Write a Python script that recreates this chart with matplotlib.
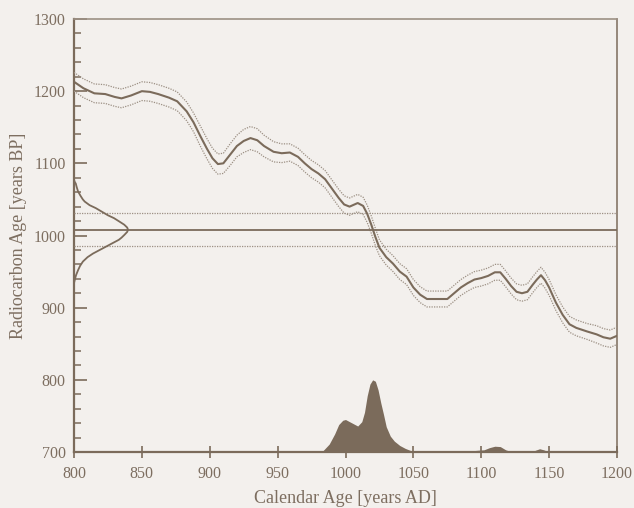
import matplotlib
matplotlib.use("Agg")
import matplotlib.pyplot as plt
from matplotlib.ticker import MultipleLocator

# ---------------- data ----------------
cal_years = [800, 807, 815, 823, 830, 835, 842, 850, 856, 862, 870, 876, 883, 888, 893, 898,
             902, 906, 910, 915, 920, 925, 930, 935, 940, 947, 953, 959, 965, 970, 975, 980,
             985, 990, 995, 999, 1003, 1009, 1013, 1016, 1019, 1022, 1025, 1030, 1035, 1040,
             1045, 1050, 1055, 1060, 1068, 1075, 1080, 1085, 1090, 1095, 1100, 1105, 1110,
             1114, 1118, 1122, 1126, 1130, 1134, 1138, 1141, 1144, 1147, 1150, 1155, 1160,
             1165, 1170, 1178, 1185, 1190, 1195, 1200]
c14_age = [1213, 1204, 1197, 1196, 1192, 1190, 1194, 1200, 1199, 1196, 1191, 1186, 1172, 1157,
           1138, 1120, 1107, 1099, 1100, 1112, 1124, 1131, 1135, 1132, 1124, 1116, 1114, 1115,
           1109, 1100, 1092, 1086, 1078, 1065, 1052, 1043, 1040, 1045, 1041, 1030, 1015, 998,
           983, 970, 961, 950, 943, 928, 918, 912, 912, 912, 920, 928, 934, 939, 941, 944, 949,
           949, 940, 930, 922, 920, 922, 932, 939, 945, 938, 928, 907, 890, 877, 872, 867, 863,
           859, 857, 861]
c14_err = [13, 13, 13, 13, 13, 13, 13, 13, 13, 13, 13, 13, 13, 13, 14, 14,
           14, 14, 14, 15, 15, 16, 16, 16, 15, 14, 13, 12, 12, 12, 12, 12,
           12, 12, 12, 12, 12, 12, 12, 12, 12, 12, 11, 11, 11, 11,
           11, 11, 11, 11, 11, 11, 11, 11, 11, 11, 11, 11, 11,
           11, 11, 11, 11, 11, 11, 11, 11, 11, 11, 11, 11, 11,
           11, 11, 11, 12, 12, 12, 12]

# measured radiocarbon date
meas_age = 1008
meas_lo = 985
meas_hi = 1031
meas_curve_age = [1077, 1074, 1072, 1067, 1061, 1055, 1050, 1047, 1042, 1038, 1033, 1028,
                  1024, 1019, 1015, 1011, 1008, 1005, 1001, 997, 994, 990, 985, 980, 975,
                  970, 964, 958, 952, 945, 938, 934]
meas_curve_w = [0, 0.6, 1.3, 2.0, 3.0, 4.8, 6.5, 7.9, 11.5, 16.0, 20.5, 25.0,
                29.5, 33.7, 37.0, 39.2, 39.8, 39.2, 37.2, 35.0, 33.0, 29.0, 24.0, 19.0, 14.0,
                10.0, 6.6, 4.5, 3.0, 1.5, 0.5, 0]

# calibrated probability distribution (height in axis units above 700)
prob_years = [978, 983, 988, 992, 995, 998, 1000, 1003, 1006, 1009, 1012, 1014, 1016, 1018,
              1020, 1022, 1024, 1026, 1028, 1030, 1033, 1036, 1040, 1044, 1048, 1052,
              1088, 1092, 1098, 1102, 1106, 1110, 1114, 1118, 1122, 1125,
              1137, 1140, 1143, 1146, 1150, 1200]
prob_vals = [0, 1, 11, 25, 38, 44, 45, 42, 39, 36, 42, 55, 78, 94,
             100, 98, 86, 68, 52, 35, 22, 15, 9, 5, 2, 0,
             0, 1.5, 2.5, 3, 6, 8, 7.5, 3, 0.5, 0,
             0, 2.5, 4.5, 3, 0, 0]

x_ticks = [800, 850, 900, 950, 1000, 1050, 1100, 1150, 1200]
y_ticks = [700, 800, 900, 1000, 1100, 1200, 1300]

# ---------------- style ----------------
bg = "#f3f0ed"
brown = "#7b6b5b"
light = "#9c9084"
txt = "#7d6e60"

plt.rcParams['font.family'] = ['Liberation Serif', 'DejaVu Serif']

fig = plt.figure(figsize=(6.34, 5.08), dpi=100, facecolor=bg)
ax = fig.add_axes([74/634, 1-452/508, (617-74)/634, (452-19)/508])
ax.set_facecolor(bg)

base = 700
ax.set_xlim(800, 1200)
ax.set_ylim(700, 1300)

# calibration curve
upper = [a + e for a, e in zip(c14_age, c14_err)]
lower = [a - e for a, e in zip(c14_age, c14_err)]
ax.plot(cal_years, c14_age, color=brown, lw=1.5, zorder=4)
ax.plot(cal_years, upper, color=light, lw=0.9, ls=(0, (1, 1)), zorder=3)
ax.plot(cal_years, lower, color=light, lw=0.9, ls=(0, (1, 1)), zorder=3)

# measured date lines
ax.axhline(meas_age, color=brown, lw=1.3, zorder=3)
ax.axhline(meas_hi, color=light, lw=0.9, ls=(0, (1, 1)), zorder=3)
ax.axhline(meas_lo, color=light, lw=0.9, ls=(0, (1, 1)), zorder=3)

# measured gaussian on left
ax.plot([800 + w for w in meas_curve_w], meas_curve_age, color=brown, lw=1.3, zorder=4)

# calibrated distribution
ax.fill_between(prob_years, [base] * len(prob_years), [base + v for v in prob_vals],
                color=brown, lw=0, zorder=2)

# ticks
ax.set_xticks(x_ticks)
ax.set_yticks(y_ticks)
ax.yaxis.set_minor_locator(MultipleLocator(20))
ax.tick_params(axis='x', direction='inout', length=8, width=1.2, colors=brown,
               labelcolor=txt, labelsize=11.5, pad=6, top=False)
ax.tick_params(axis='y', which='major', direction='in', length=9, width=1.2, colors=brown,
               labelcolor=txt, labelsize=11.5, pad=6, right=False)
ax.tick_params(axis='y', which='minor', direction='in', length=5, width=1.1, colors=brown,
               right=False)
ax.tick_params(axis='x', which='minor', bottom=False, top=False)

for s in ['left', 'bottom']:
    ax.spines[s].set_color(brown)
    ax.spines[s].set_linewidth(1.6)
ax.spines['right'].set_color(brown)
ax.spines['right'].set_linewidth(1.1)
ax.spines['top'].set_color(light)
ax.spines['top'].set_linewidth(1.2)
ax.spines['top'].set_linestyle((0, (14, 1)))

ax.set_xlabel("Calendar Age [years AD]", color=txt, fontsize=13, labelpad=6)
ax.set_ylabel("Radiocarbon Age [years BP]", color=txt, fontsize=13, labelpad=5)

fig.savefig("out.png", dpi=100, facecolor=bg)
